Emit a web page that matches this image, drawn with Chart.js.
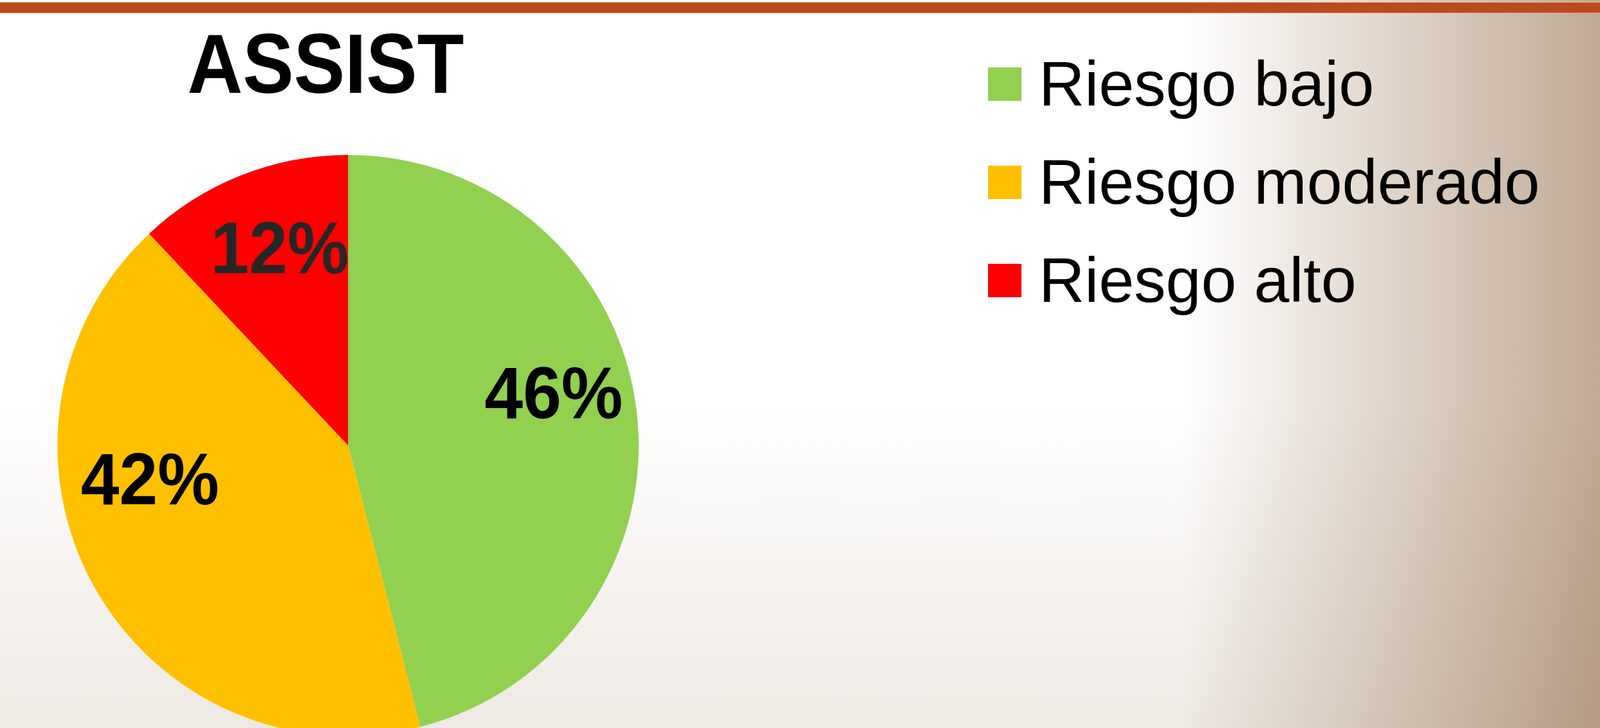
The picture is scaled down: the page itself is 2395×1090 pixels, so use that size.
<!DOCTYPE html>
<html>
<head>
<meta charset="utf-8">
<script src="https://cdn.jsdelivr.net/npm/chart.js@4.4.1/dist/chart.umd.min.js"></script>
<style>
  html, body {
    margin: 0;
    padding: 0;
    width: 2395px;
    height: 1090px;
    overflow: hidden;
  }
  body {
    position: relative;
    font-family: "Liberation Sans", Arial, sans-serif;
    background:
      linear-gradient(to right, #ffffff 0%, #ffffff 74%, #c0aa96 100%),
      linear-gradient(to bottom, #ffffff 0%, #ffffff 55%, #eee9e3 100%);
    background-blend-mode: multiply;
  }
  #topBar {
    position: absolute;
    left: 0; top: 3px;
    width: 2395px; height: 15px;
    background: #bc4a1f;
    border-top: 1px solid #e3a88f;
    border-bottom: 1px solid #e3a88f;
  }
  #title {
    position: absolute;
    left: 0; top: 8px;
    width: 975px;
    text-align: center;
    font-size: 126px;
    font-weight: bold;
    line-height: 176px;
    color: #000;
    transform: scaleX(0.91);
    transform-origin: 487px 0;
  }
  #pieCanvas {
    position: absolute;
    left: 0; top: 0;
  }
  #legend {
    position: absolute;
    left: 1479px; top: 52px;
    margin: 0; padding: 0;
    list-style: none;
  }
  #legend li {
    display: flex;
    align-items: center;
    height: 147px;
    line-height: 147px;
    font-size: 95px;
    color: #000;
    white-space: nowrap;
  }
  #legend .box {
    width: 50px;
    height: 50px;
    margin-right: 26px;
  }
</style>
</head>
<body>
<div id="topBar"></div>
<div id="title">ASSIST</div>
<canvas id="pieCanvas" width="975" height="1110"></canvas>
<ul id="legend"></ul>
<script>
var categories = ['Riesgo bajo', 'Riesgo moderado', 'Riesgo alto'];
var values = [46, 42, 12];
var colors = ['#92d050', '#ffc000', '#ff0000'];

// label look: colour and a small nudge off the slice's mid line
var labelColors = ['#000000', '#000000', '#262626'];
var labelNudge = [[-3, -32], [-22, -93], [13, 3]];

var sliceLabels = {
    id: 'sliceLabels',
    afterDatasetsDraw: function(chart) {
        var ctx = chart.ctx;
        var meta = chart.getDatasetMeta(0);
        var data = chart.data.datasets[0].data;
        var total = data.reduce(function(a, b) { return a + b; }, 0);
        ctx.save();
        ctx.font = 'bold 110px "Liberation Sans", Arial, sans-serif';
        ctx.textAlign = 'center';
        ctx.textBaseline = 'middle';
        meta.data.forEach(function(arc, i) {
            var mid = (arc.startAngle + arc.endAngle) / 2;
            var r = arc.outerRadius * 0.72;
            var x = arc.x + Math.cos(mid) * r + labelNudge[i][0];
            var y = arc.y + Math.sin(mid) * r + labelNudge[i][1];
            ctx.save();
            ctx.translate(x, y);
            ctx.scale(0.94, 1);
            ctx.fillStyle = labelColors[i];
            ctx.fillText(Math.round(data[i] / total * 100) + '%', 0, 0);
            ctx.restore();
        });
        ctx.restore();
    }
};

document.addEventListener('DOMContentLoaded', function() {
    var ctx = document.getElementById('pieCanvas');
    var pie = new Chart(ctx, {
        type: 'pie',
        data: {
            labels: categories,
            datasets: [{
                data: values,
                backgroundColor: colors,
                borderWidth: 0
            }]
        },
        options: {
            responsive: false,
            animation: false,
            layout: {
                padding: { left: 86, right: 19, top: 232, bottom: 8 }
            },
            plugins: {
                legend: { display: false },
                tooltip: { enabled: false },
                title: { display: false }
            }
        },
        plugins: [sliceLabels]
    });

    // html legend built from the chart's own legend items
    var list = document.getElementById('legend');
    var items = pie.options.plugins.legend.labels.generateLabels(pie);
    items.forEach(function(item) {
        var li = document.createElement('li');
        var box = document.createElement('span');
        box.className = 'box';
        box.style.background = item.fillStyle;
        li.appendChild(box);
        li.appendChild(document.createTextNode(item.text));
        list.appendChild(li);
    });
});
</script>
</body>
</html>
